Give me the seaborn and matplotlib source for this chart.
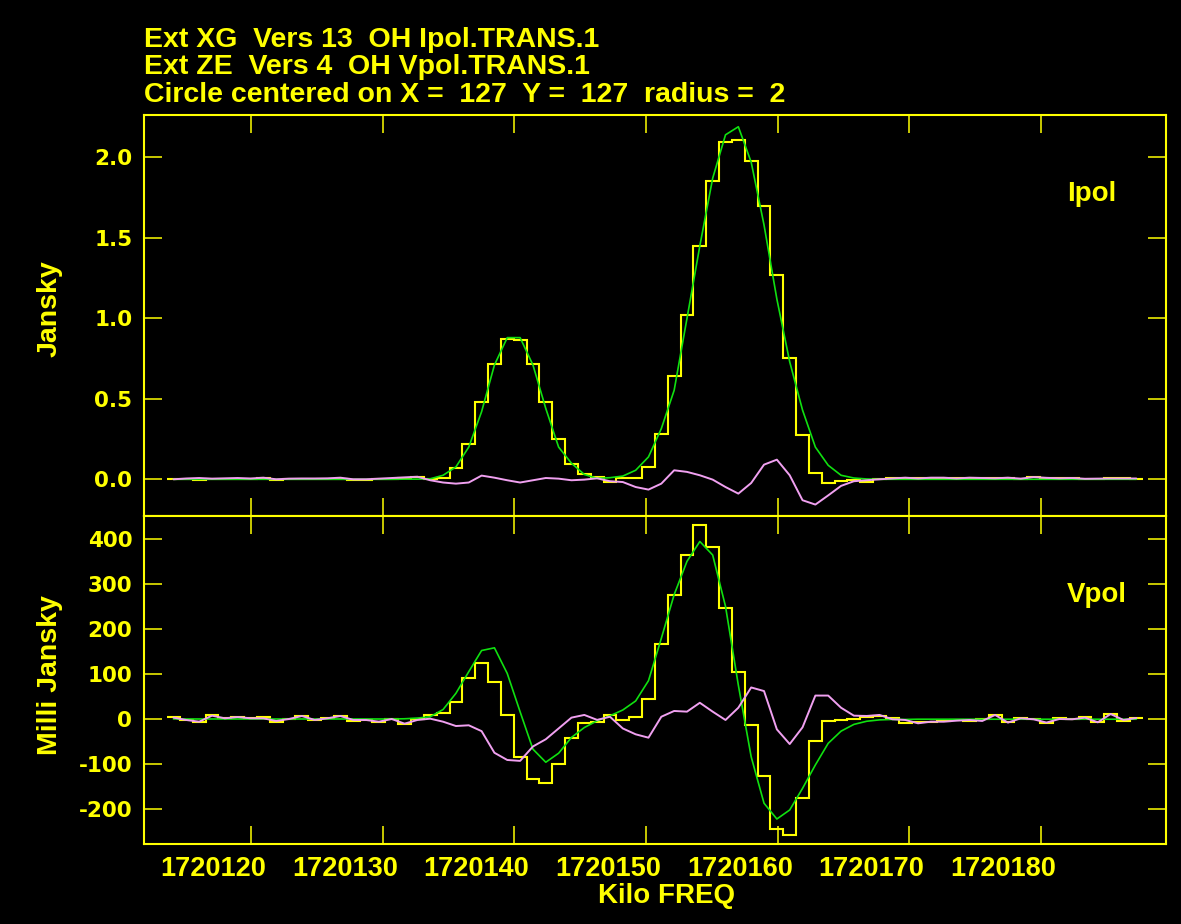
import numpy as np
import pandas as pd
import matplotlib
matplotlib.use("Agg")
import matplotlib.pyplot as plt
import seaborn as sns
from matplotlib.transforms import ScaledTranslation

# ---------------- data ----------------
freq_first = 1720114.11   # kHz, centre of first channel
chan_width = 0.975        # kHz per channel
n_chan = 76

ipol_data = [0.002, 0.0, -0.002, 0.004, 0.002, 0.0, 0.003, 0.010, -0.004, 0.0,
             0.002, 0.0, 0.003, 0.0, -0.006, -0.006, 0.0, 0.002, 0.005, 0.014,
             0.002, 0.008, 0.072, 0.217, 0.478, 0.716, 0.874, 0.863, 0.714, 0.478,
             0.253, 0.097, 0.031, 0.014, -0.017, 0.005, 0.008, 0.077, 0.280, 0.642,
             1.020, 1.447, 1.850, 2.095, 2.110, 1.977, 1.700, 1.270, 0.754, 0.277,
             0.041, -0.020, -0.010, -0.005, -0.017, 0.000, 0.005, 0.010, 0.005, 0.008,
             0.008, 0.005, 0.010, 0.005, 0.005, 0.010, 0.000, 0.015, 0.008, 0.005,
             0.008, 0.003, 0.004, 0.005, 0.005, 0.004]

ipol_model = [0.0, 0.0, 0.0, 0.0, 0.0, 0.0, 0.0, 0.0, 0.0, 0.0,
              0.0, 0.0, 0.0, 0.0, 0.0, 0.0, 0.0, 0.0, 0.001, 0.001,
              0.003, 0.025, 0.077, 0.200, 0.420, 0.710, 0.880, 0.880, 0.710, 0.440,
              0.200, 0.100, 0.030, 0.006, 0.010, 0.020, 0.056, 0.139, 0.315, 0.553,
              1.000, 1.450, 1.870, 2.140, 2.190, 1.970, 1.580, 1.120, 0.730, 0.430,
              0.200, 0.087, 0.025, 0.008, 0.002, 0.0, 0.0, 0.0, 0.0, 0.0,
              0.0, 0.0, 0.0, 0.0, 0.0, 0.0, 0.0, 0.0, 0.0, 0.0,
              0.0, 0.0, 0.0, 0.0, 0.0, 0.0]

ipol_resid = [0.0, 0.005, 0.008, 0.004, 0.006, 0.008, 0.005, 0.010, 0.0, 0.004,
              0.005, 0.005, 0.006, 0.010, 0.0, 0.0, 0.004, 0.008, 0.012, 0.016,
              -0.006, -0.020, -0.027, -0.020, 0.023, 0.010, -0.006, -0.020, -0.006, 0.008,
              0.004, -0.006, -0.002, 0.006, -0.012, -0.017, -0.048, -0.064, -0.027, 0.056,
              0.046, 0.025, -0.002, -0.048, -0.089, -0.023, 0.091, 0.122, 0.025, -0.130,
              -0.157, -0.100, -0.041, -0.012, -0.006, 0.000, 0.005, 0.010, 0.005, 0.010,
              0.010, 0.005, 0.010, 0.008, 0.006, 0.010, 0.004, 0.014, 0.009, 0.006,
              0.008, 0.003, 0.004, 0.005, 0.005, 0.005]

vpol_data = [3.7, -2.2, -6.7, 8.0, 1.5, 5.0, 2.0, 3.7, -6.7, 0.0,
             6.7, -2.2, 2.0, 6.7, -3.7, -2.2, -6.7, 0.0, -11.0, -0.7,
             9.0, 12.6, 38.5, 90.0, 124.0, 82.0, 9.6, -85.0, -133.0, -141.0,
             -99.0, -43.0, -9.6, -7.4, 8.0, -2.2, 5.2, 43.7, 166.0, 275.6,
             364.0, 430.0, 381.0, 246.0, 105.0, -13.3, -127.0, -244.0, -258.0, -176.0,
             -49.0, -3.7, -1.5, -0.7, 3.7, 7.4, 1.5, -9.6, -7.4, -6.0,
             -4.4, -2.2, -4.4, 0.0, 9.6, -7.4, 1.5, -0.7, -8.0, 1.5,
             -0.7, 3.7, -6.7, 11.8, -3.7, 2.2]

vpol_model = [0.0, 0.0, 0.0, 0.0, 0.0, 0.0, 0.0, 0.0, 0.0, 0.0,
              0.0, 0.0, 0.0, 0.0, 0.0, 0.0, 0.0, 0.0, 0.5, 2.0,
              5.0, 21.0, 57.0, 105.0, 152.0, 158.0, 101.0, 16.0, -67.0, -96.0,
              -76.0, -41.0, -19.0, -4.0, 7.0, 20.0, 40.0, 85.0, 179.0, 276.0,
              350.0, 394.0, 364.0, 250.0, 75.0, -84.0, -187.0, -222.0, -202.0, -154.0,
              -102.0, -54.0, -27.0, -12.0, -5.0, -2.0, -1.0, -1.0, -0.5, -0.5,
              -0.5, -0.5, -0.5, -0.5, -0.5, -0.5, -0.5, -0.5, -0.5, -0.5,
              -0.5, -0.5, -0.5, -0.5, -0.5, -0.5]

vpol_resid = [3.0, -2.2, -6.0, 7.4, 1.5, 4.4, 1.5, 1.5, -4.4, 0.0,
              6.7, -2.2, 1.5, 6.7, -2.2, -2.2, -6.0, 0.0, -10.4, -2.2,
              0.7, -6.0, -15.6, -14.0, -27.0, -75.0, -91.0, -93.0, -61.0, -45.0,
              -21.0, 3.0, 9.0, -2.0, 5.0, -21.0, -34.0, -41.5, 5.0, 17.8,
              16.3, 36.0, 16.3, -2.2, 25.0, 70.0, 62.0, -23.0, -55.6, -18.5,
              52.0, 52.0, 25.0, 7.4, 6.7, 9.0, -0.7, -2.2, -9.6, -6.0,
              -6.0, -3.7, -2.2, -4.4, 9.0, -8.0, 1.5, -0.7, -8.0, 0.0,
              -0.7, 3.0, -7.4, 11.0, -2.2, 2.2]

x_ticks = [1720120, 1720130, 1720140, 1720150, 1720160, 1720170, 1720180]
x_tick_labels = ["1720120", "1720130", "1720140", "1720150", "1720160", "1720170", "1720180"]
ipol_ticks = [0.0, 0.5, 1.0, 1.5, 2.0]
ipol_tick_labels = ["0.0", "0.5", "1.0", "1.5", "2.0"]
vpol_ticks = [-200, -100, 0, 100, 200, 300, 400]
vpol_tick_labels = ["-200", "-100", "0", "100", "200", "300", "400"]
title_lines = ["Ext XG  Vers 13  OH Ipol.TRANS.1",
               "Ext ZE  Vers 4  OH Vpol.TRANS.1",
               "Circle centered on X =  127  Y =  127  radius =  2"]

# ---------------- style ----------------
YEL = "#ffff00"
GRN = "#10e010"
PNK = "#f0a0f0"

sns.set_theme(style="dark")
plt.rcParams.update({
    "figure.facecolor": "black",
    "axes.facecolor": "black",
    "savefig.facecolor": "black",
    "axes.edgecolor": YEL,
    "axes.linewidth": 1.5,
    "axes.grid": False,
})
plt.rcParams["font.family"] = ["Liberation Sans", "DejaVu Sans"]

W, H = 1181, 924
fig = plt.figure(figsize=(W / 100, H / 100), dpi=100)

left, right = 144 / W, 1166 / W
ax1 = fig.add_axes([left, 1 - 516 / H, right - left, (516 - 115) / H])
ax2 = fig.add_axes([left, 1 - 844 / H, right - left, (844 - 516) / H])

chan = np.arange(n_chan)
freqs = freq_first + chan_width * chan
edges = freq_first - chan_width / 2 + chan_width * np.arange(n_chan + 1)

df = pd.DataFrame({"freq": freqs,
                   "ipol_model": ipol_model, "ipol_resid": ipol_resid,
                   "vpol_model": vpol_model, "vpol_resid": vpol_resid})

for ax, data, mcol, rcol in [(ax1, ipol_data, "ipol_model", "ipol_resid"),
                             (ax2, vpol_data, "vpol_model", "vpol_resid")]:
    ax.stairs(data, edges, color=YEL, lw=1.5, baseline=None, zorder=2)
    sns.lineplot(data=df, x="freq", y=mcol, ax=ax, color=GRN, lw=1.2,
                 estimator=None, sort=False, legend=False, zorder=3)
    sns.lineplot(data=df, x="freq", y=rcol, ax=ax, color=PNK, lw=1.4,
                 estimator=None, sort=False, legend=False, zorder=4)
    ax.set_xlim(1720111.87, 1720189.49)
    ax.set_xlabel("")
    ax.set_ylabel("")
    for s in ax.spines.values():
        s.set_color(YEL)
        s.set_linewidth(1.5)
        s.set_visible(True)
    ax.tick_params(axis="both", which="major", direction="in", length=13,
                   width=1.1, color=YEL, top=True, right=True, bottom=True, left=True,
                   labeltop=False, labelright=False)
    ax.minorticks_off()

ax1.set_ylim(-0.228, 2.263)
ax2.set_ylim(-277.5, 450.6)

ytick_kw = dict(fontfamily="DejaVu Sans", fontweight="bold", fontsize=15.5, color=YEL)
ax1.set_yticks(ipol_ticks, labels=ipol_tick_labels, **ytick_kw)
ax2.set_yticks(vpol_ticks, labels=vpol_tick_labels, **ytick_kw)
ax1.tick_params(axis="y", pad=8.5)
ax2.tick_params(axis="y", pad=8.5)

ax1.set_xticks(x_ticks)
ax1.tick_params(axis="x", labelbottom=False)
ax2.set_xticks(x_ticks, labels=x_tick_labels, fontfamily="Liberation Sans",
               fontweight="bold", fontsize=19.5, color=YEL)
ax2.tick_params(axis="x", pad=9)
shift = ScaledTranslation(-38 / 100, 0, fig.dpi_scale_trans)
for lab in ax2.get_xticklabels():
    lab.set_transform(lab.get_transform() + shift)

txt_kw = dict(color=YEL, fontweight="bold", fontfamily="Liberation Sans")
for i, line in enumerate(title_lines):
    fig.text(144 / W, 1 - (47 + 27.5 * i) / H, line, ha="left", va="baseline",
             fontsize=20.5, **txt_kw)

fig.text(50 / W, 1 - 309 / H, "Jansky", rotation=90, ha="center", va="center",
         fontsize=20.5, **txt_kw)
fig.text(50 / W, 1 - 675 / H, "Milli Jansky", rotation=90, ha="center", va="center",
         fontsize=20.5, **txt_kw)
fig.text(666 / W, 1 - 903 / H, "Kilo FREQ", ha="center", va="baseline",
         fontsize=20, **txt_kw)
fig.text(1067 / W, 1 - 201 / H, "Ipol", ha="left", va="baseline", fontsize=20, **txt_kw)
fig.text(1067 / W, 1 - 602 / H, "Vpol", ha="left", va="baseline", fontsize=20, **txt_kw)

fig.savefig("out.png", dpi=100, facecolor="black")
